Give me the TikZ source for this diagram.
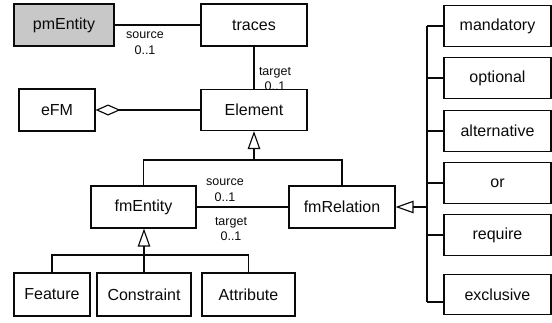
\documentclass[tikz,border=0pt]{standalone}
\usepackage{fontspec}
\setmainfont{Liberation Sans}
\usetikzlibrary{arrows.meta}
\definecolor{shade}{RGB}{200,200,200}
\definecolor{ink}{RGB}{10,10,10}
\begin{document}
\begin{tikzpicture}[x=1pt,y=-1pt,
  cls/.style={draw=ink, fill=white, line width=1.15pt, inner sep=0pt,
    minimum height=42pt, text=ink, font=\fontsize{16}{19}\selectfont},
  role/.style={font=\fontsize{12.5}{15.5}\selectfont, align=center,
    inner sep=0pt, text=ink},
  link/.style={draw=ink, line width=1.15pt},
  gen/.style={link, -{Triangle[open, length=18pt, width=12.5pt]}},
  agg/.style={link, -{Diamond[open, length=25pt, width=11pt]}},
]
\useasboundingbox (0,0) rectangle (552,322);

% role labels (drawn first so the boxes may overlap them)
\node[role] (srcA) at (145,43)  {source\\0..1};
\node[role] (tgtA) at (275,79)  {target\\0..1};
\node[role] (srcB) at (225,190) {source\\0..1};
\node[role] (tgtB) at (231,229) {target\\0..1};

% classes
\node[cls, fill=shade, minimum width=100pt] (pm)     at (64,25)    {pmEntity};
\node[cls, minimum width=106pt]             (traces) at (254,25)   {traces};
\node[cls, minimum width=76pt]              (efm)    at (57,110)   {eFM};
\node[cls, minimum width=106pt, minimum height=41pt] (elem) at (254,110) {Element};
\node[cls, minimum width=105pt]             (fment)  at (143.5,207) {fmEntity};
\node[cls, minimum width=106pt]             (fmrel)  at (342,207)  {fmRelation};
\node[cls, minimum width=76pt, minimum height=43pt] (feat)   at (52,294.5)  {Feature};
\node[cls, minimum width=94pt, minimum height=43pt] (constr) at (144,294.5) {Constraint};
\node[cls, minimum width=93pt, minimum height=43pt] (attr)   at (248.5,294.5) {Attribute};

% relation kinds
\begin{scope}[every node/.style={cls, minimum width=107pt, minimum height=40.5pt}]
  \node (mand) at (497.5,26)    {mandatory};
  \node (opt)  at (497.5,78)    {optional};
  \node (alt)  at (497.5,131)   {alternative};
  \node (orr)  at (497.5,183)   {or};
  \node (req)  at (497.5,235)   {require};
  \node (exc)  at (497.5,294.5) {exclusive};
\end{scope}

% junction points
\coordinate (jElem) at (254,160);
\coordinate (jEnt)  at (144,255);
\coordinate (busTop) at (427,26);
\coordinate (busBot) at (427,302);
\coordinate (busMid) at (427,207);

% associations
\draw[link] (pm.east) -- (traces.west);
\draw[link] (traces.south) -- (elem.north);
\draw[agg] (elem.west) -- (efm.east);
\draw[link] (fment.east) -- (fmrel.west);

% fmEntity and fmRelation specialise Element
\draw[link] (fment.north) |- (jElem) -| (fmrel.north);
\draw[gen] (jElem) -- (elem.south);

% Feature, Constraint and Attribute specialise fmEntity
\draw[link] (feat.north) |- (jEnt) -| (attr.north);
\draw[gen] (constr.north) -- (constr.north |- fment.south);

% the relation kinds specialise fmRelation
\draw[link] (busTop) -- (busBot);
\draw[link] (busTop) -- (mand.west);
\draw[link] (busTop |- opt.west) -- (opt.west);
\draw[link] (busTop |- alt.west) -- (alt.west);
\draw[link] (busTop |- orr.west) -- (orr.west);
\draw[link] (busTop |- req.west) -- (req.west);
\draw[link] (busBot) -- (busBot -| exc.west);
\draw[gen] (busMid) -- (fmrel.east);
\end{tikzpicture}
\end{document}
